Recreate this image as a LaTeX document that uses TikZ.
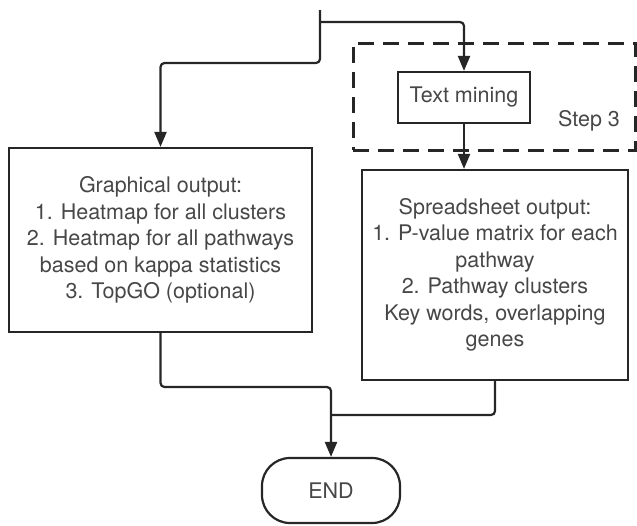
\documentclass[tikz,border=0pt]{standalone}
\usepackage{fontspec}
\setmainfont{TeX Gyre Heros}
\usetikzlibrary{arrows.meta}
\begin{document}
\begin{tikzpicture}[x=1pt,y=-1pt,
  txt/.style={font=\fontsize{21.5}{26.5}\selectfont, text=black!72, align=center},
  box/.style={draw=black!85, line width=2.2pt, txt, inner sep=0pt},
  conn/.style={draw=black!85, line width=2.2pt, rounded corners=4pt},
  arr/.style={conn, -{Triangle[length=15pt,width=12pt]}},
  stepframe/.style={draw=black!85, line width=3pt, dash pattern=on 16pt off 9pt, inner sep=0pt}]
\useasboundingbox (0,0) rectangle (637,525);
\node[stepframe, minimum width=282pt, minimum height=107pt] (frame) at (494,96.5) {};
\node[txt, anchor=center] (steplbl) at (589,121) {Step 3};
\node[box, minimum width=132pt, minimum height=51pt] (tm) at (464,97.5) {Text mining};
\node[box, minimum width=303pt, minimum height=184pt] (gfx) at (160.5,240) {Graphical output:\\1. Heatmap for all clusters\\2. Heatmap for all pathways\\based on kappa statistics\\3. TopGO (optional)};
\node[box, minimum width=266pt, minimum height=210pt] (sheet) at (495,275) {Spreadsheet output:\\1. P-value matrix for each\\pathway\\2. Pathway clusters\\Key words, overlapping\\genes};
\node[box, minimum width=138pt, minimum height=65pt, rounded corners=28pt] (end) at (331,490.5) {END};
\coordinate (top) at (320,10);
\coordinate (j1) at (320,22);
\coordinate (j2) at (320,63);
\coordinate (j3) at (331,387);
\coordinate (j4) at (331,415);
\draw[arr] (top) -- (j2) -| (gfx.north);
\draw[arr] (j1) -| (tm.north);
\draw[arr] (tm.south) -- (tm.south |- sheet.north);
\draw[arr] (gfx.south) |- (j3) -- (end.north);
\draw[conn] (sheet.south) |- (j4);
\end{tikzpicture}
\end{document}
